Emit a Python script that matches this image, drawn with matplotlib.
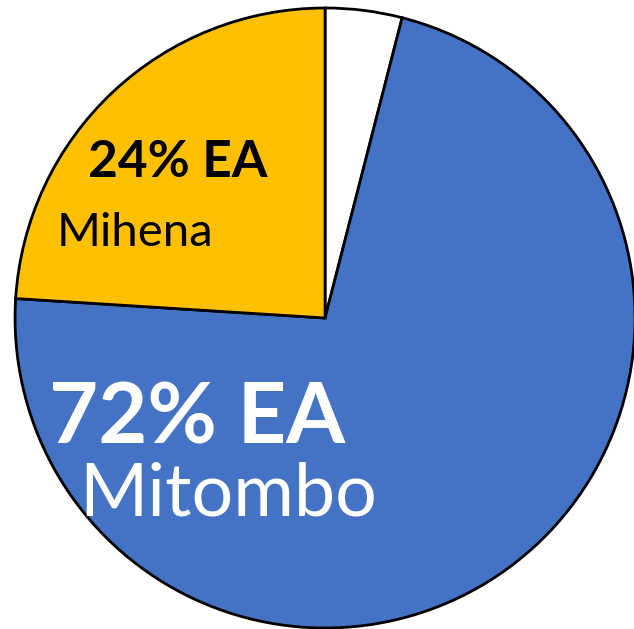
import matplotlib
matplotlib.use("Agg")
import matplotlib.pyplot as plt

labels = ["Other", "Mitombo", "Mihena"]
values = [4, 72, 24]
colors = ["#FFFFFF", "#4472C4", "#FFC000"]

fig = plt.figure(figsize=(6.34, 6.29), dpi=100)
ax = fig.add_axes([0.0237, 0.0016, 0.978, 0.9857])
ax.pie(values, colors=colors, startangle=90, counterclock=False,
       wedgeprops=dict(edgecolor="black", linewidth=2.0))
ax.set_xlim(-1.0, 1.0)
ax.set_ylim(-1.0, 1.0)
ax.set_aspect("equal")
ax.axis("off")

fam = ["Lato", "DejaVu Sans"]
ax.text(-0.413, -0.325, "72% EA", color="white", fontsize=61, fontweight="bold",
        ha="center", va="center", family=fam)
ax.text(-0.313, -0.57, "Mitombo", color="white", fontsize=53,
        ha="center", va="center", family=fam)
ax.text(-0.474, 0.503, "24% EA", color="black", fontsize=37, fontweight="bold",
        ha="center", va="center", family=fam)
ax.text(-0.613, 0.274, "Mihena", color="black", fontsize=34,
        ha="center", va="center", family=fam)

fig.savefig("out.png", dpi=100)
